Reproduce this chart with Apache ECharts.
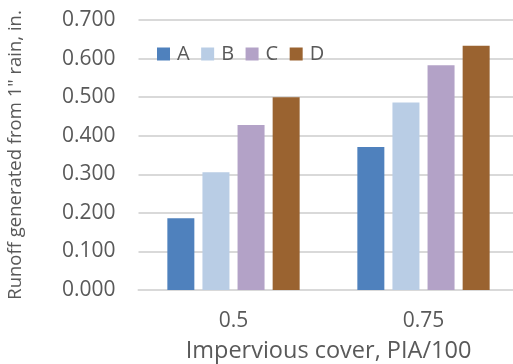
<!DOCTYPE html>
<html>
<head>
<meta charset="utf-8">
<script src="https://cdn.jsdelivr.net/npm/echarts@6/dist/echarts.min.js"></script>
<style>
  html, body { margin: 0; padding: 0; background: #fff; }
  #chart { width: 513px; height: 364px; }
</style>
</head>
<body>
<div id="chart"></div>
<script>
// Impervious cover categories (PIA/100)
const categories = ['0.5', '0.75'];
// Runoff from 1" rain (in.) by soil group
const seriesNames = ['A', 'B', 'C', 'D'];
const valuesA = [0.186, 0.371];
const valuesB = [0.305, 0.486];
const valuesC = [0.428, 0.583];
const valuesD = [0.500, 0.633];
const yTicks = { min: 0, max: 0.7, interval: 0.1 };

const colors = ['#4f81bd', '#b9cde5', '#b3a2c7', '#9a6330'];
const seriesValues = [valuesA, valuesB, valuesC, valuesD];
const font = 'Open Sans, Liberation Sans, sans-serif';
const textColor = '#595959';

const chart = echarts.init(document.getElementById('chart'), null, { renderer: 'canvas' });
chart.setOption({
  animation: false,
  color: colors,
  textStyle: { fontFamily: font },
  legend: {
    left: 157, top: 44, padding: 0,
    itemWidth: 13, itemHeight: 13, itemGap: 11.5,
    icon: 'rect',
    textStyle: { fontSize: 20, color: textColor, fontFamily: font, padding: [0, 0, 0, 2] },
    data: seriesNames
  },
  // plot area runs slightly past the right edge of the canvas
  grid: { left: 138.5, width: 380, top: 20, height: 270, outerBoundsMode: 'none' },
  xAxis: {
    type: 'category',
    data: categories,
    axisLine: { lineStyle: { color: '#d9d9d9', width: 2 } },
    axisTick: { show: false },
    axisLabel: { fontSize: 21, color: textColor, margin: 21, fontFamily: font },
    name: 'Impervious cover, PIA/100',
    nameLocation: 'middle',
    nameGap: 49,
    nameTextStyle: { fontSize: 23.5, color: textColor, fontFamily: font }
  },
  yAxis: {
    type: 'value',
    min: yTicks.min, max: yTicks.max, interval: yTicks.interval,
    axisLine: { show: false },
    axisTick: { show: false },
    splitLine: { lineStyle: { color: '#d9d9d9', width: 2 } },
    axisLabel: {
      fontSize: 21, color: textColor, margin: 23, fontFamily: font,
      formatter: v => v.toFixed(3)
    },
    name: 'Runoff generated from 1" rain, in.',
    nameLocation: 'middle',
    nameGap: 113,
    nameTextStyle: { fontSize: 18.5, color: textColor, fontFamily: font }
  },
  series: seriesNames.map((n, i) => ({
    name: n,
    type: 'bar',
    data: seriesValues[i],
    barWidth: 27,
    barGap: '30%',
    itemStyle: { color: colors[i] }
  }))
});
</script>
</body>
</html>
